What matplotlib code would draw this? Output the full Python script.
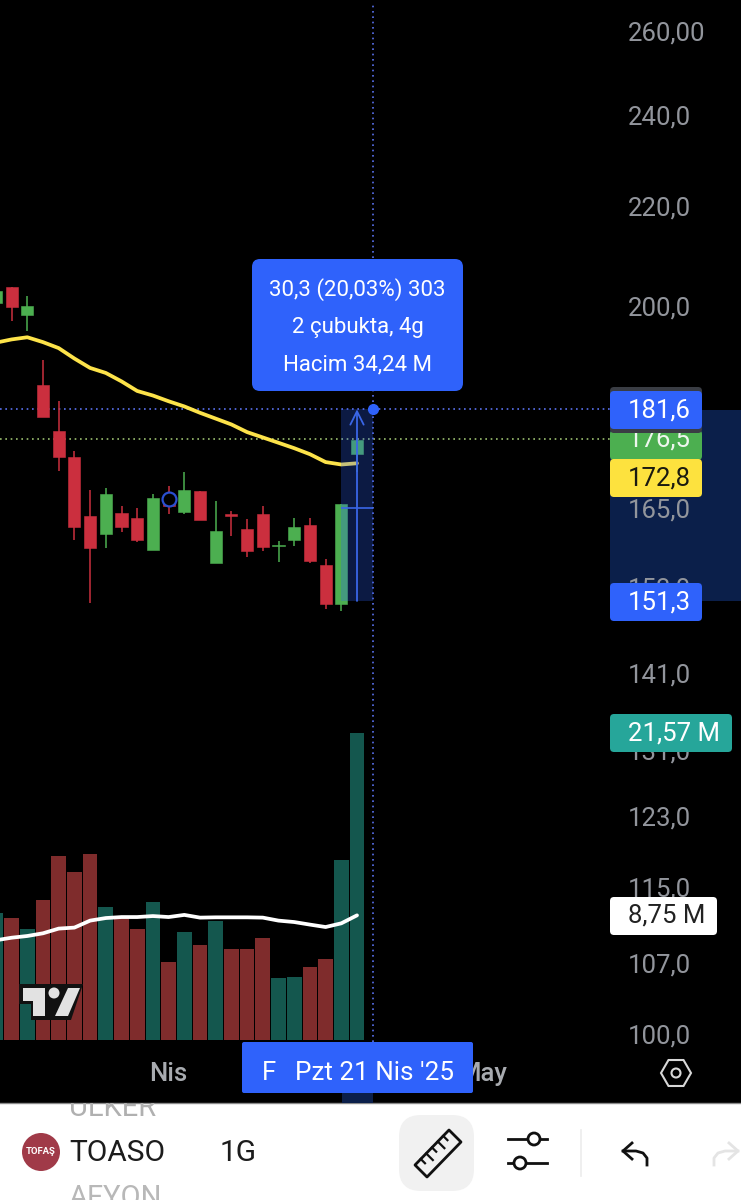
import numpy as np
import matplotlib
matplotlib.use('Agg')
import matplotlib.pyplot as plt
from matplotlib.patches import Rectangle, FancyBboxPatch, Circle, Polygon, RegularPolygon
from matplotlib.transforms import ScaledTranslation

plt.rcParams['font.family'] = ['Roboto', 'DejaVu Sans']

# daily bars, first one is cut by the left edge
bar_idx = list(range(-1, 23))
opens = [200.9, 204.1, 198.7, 185.8, 177.9, 173.6, 164.0, 161.3, 164.5, 163.7, 158.9, 166.8, 164.7, 168.0, 156.8, 164.3,
         162.1, 164.3, 159.4, 160.4, 162.7, 156.6, 150.9, 174.0]
closes = [203.2, 200.2, 200.3, 180.2, 173.5, 162.3, 159.1, 167.6, 162.4, 160.4, 166.9, 165.6, 168.1, 163.5, 161.7, 164.0,
          158.6, 159.3, 159.6, 162.3, 157.2, 150.9, 166.0, 176.3]
highs = [203.2, 204.1, 202.2, 190.3, 183.0, 174.5, 168.1, 168.5, 165.7, 165.3, 167.6, 168.8, 171.0, 168.0, 166.4, 164.8,
         163.6, 165.7, 160.2, 163.7, 163.7, 157.5, 166.0, 176.5]
lows = [200.9, 197.5, 195.6, 180.2, 171.3, 160.3, 151.0, 159.2, 161.6, 160.0, 158.9, 164.3, 164.4, 163.4, 156.8, 161.0,
        157.7, 158.6, 157.0, 159.5, 156.8, 150.1, 149.9, 171.1]
price_ma = [193.5, 194.1, 194.5, 193.6, 192.5, 190.6, 188.9, 188.0, 186.5, 184.8, 184.0, 183.0, 182.1, 181.0, 180.0, 179.0,
            177.7, 176.8, 175.9, 175.0, 174.0, 172.7, 172.3, 172.5]
volumes = [8.89, 8.54, 7.77, 9.85, 12.94, 11.82, 13.03, 9.31, 8.70, 7.79, 9.71, 5.48, 7.58, 6.67, 8.33, 6.36,
           6.36, 7.18, 4.33, 4.45, 5.10, 5.71, 12.64, 21.57]
vol_colors = ['g', 'r', 'g', 'r', 'r', 'r', 'r', 'g', 'r', 'r', 'g', 'r', 'g', 'r', 'g', 'r',
              'r', 'r', 'g', 'g', 'r', 'r', 'g', 'g']
vol_ma = [7.00, 7.18, 7.30, 7.49, 7.82, 7.89, 8.38, 8.56, 8.63, 8.63, 8.70, 8.63, 8.78, 8.59, 8.61, 8.61,
          8.61, 8.59, 8.38, 8.28, 8.10, 7.93, 8.19, 8.75]

price_ticks = [260, 240, 220, 200, 165, 153, 141, 131, 123, 115, 107, 100]
price_labels = ['260,00', '240,0', '220,0', '200,0', '165,0', '153,0', '141,0', '131,0', '123,0', '115,0', '107,0', '100,0']
date_ticks = [10, 30.0]
date_labels = ['Nis', 'May']

measure_top = 181.6
measure_bottom = 151.3
measure_mid = 165.3
last_close = 176.5
marker_idx = 10
marker_price = 166.8
cross_idx = 23

W, H = 741, 1200
BLUE = '#2f62fb'
RED = '#cb2f3e'
GREEN = '#4caf50'
AXIS_GREY = '#92959c'

fig = plt.figure(figsize=(W / 100, H / 100), dpi=100, facecolor='black')


def px_axes(left, top, right, bottom, z):
    a = fig.add_axes([left / W, 1 - bottom / H, (right - left) / W, (bottom - top) / H], zorder=z)
    a.patch.set_alpha(0)
    return a


# backdrop, the navy band behind the price scale
bg = px_axes(0, 0, W, H, 0)
bg.set_xlim(0, W)
bg.set_ylim(H, 0)
bg.axis('off')
bg.add_patch(Rectangle((610, 410), 131, 191, fc='#0b1f4a', ec='none'))

# price pane, sits 1.5 px lower than the volume pane
ax = px_axes(0, 1.5, 610, 1041.5, 2)
step = 15.7
ax.set_xlim(22 - 357 / step, 22 + 253 / step)
ax.set_yscale('log')
ax.set_ylim(99.45, 267.8)
for s in ax.spines.values():
    s.set_visible(False)

ax.axhline(measure_top, color='#5a72f0', lw=1.2, ls=(0, (1, 2.2)), zorder=1)
ax.axhline(last_close, color='#9cc070', lw=1.2, ls=(0, (1, 2.2)), zorder=1)
ax.vlines(cross_idx, 99.45, 275, color='#5a72f0', lw=1.2, ls=(0, (1, 2.2)), zorder=1)

for i, o, c, h, l in zip(bar_idx, opens, closes, highs, lows):
    col = GREEN if c >= o else RED
    ax.vlines(i, l, h, color=col, lw=1.1, zorder=2)
    ax.bar(i, abs(c - o), bottom=min(o, c), width=0.77, color=col, ec=col, lw=0.4, zorder=3)

ax.plot(bar_idx, price_ma, color='#fde34a', lw=2.7, zorder=4, solid_capstyle='round')
ax.plot(marker_idx, marker_price, 'o', ms=10, mfc='black', mec='#2a4fd0', mew=1.6, zorder=5)

ax.fill_between([21, cross_idx], measure_bottom, measure_top, color=BLUE, alpha=0.27, lw=0, zorder=6)
ax.hlines(measure_mid, 21, cross_idx, color='#3a66e8', lw=1.2, zorder=7)
ax.annotate('', xy=(22, measure_top), xytext=(22, measure_bottom), zorder=7,
            arrowprops=dict(arrowstyle='->', color='#3a66e8', lw=1.3, mutation_scale=24, shrinkA=0, shrinkB=0))
ax.plot(cross_idx, measure_top, 'o', ms=7, color=BLUE, zorder=8, clip_on=False)

ax.yaxis.tick_right()
ax.set_yticks(price_ticks)
ax.set_yticklabels(price_labels, fontsize=18.5, color=AXIS_GREY)
ax.minorticks_off()
ax.tick_params(axis='y', which='both', length=0, pad=13)
# keep the scale text where it was before the pane moved down
up = ScaledTranslation(0, 2.0 / 100, fig.dpi_scale_trans)
for lab in ax.get_yticklabels():
    lab.set_transform(lab.get_transform() + up)
ax.set_xticks(date_ticks)
ax.set_xticklabels(date_labels, fontsize=18.5, color='#a8abb0', fontweight='medium')
ax.tick_params(axis='x', length=0, pad=15)

# volume pane, own linear scale
vx = px_axes(0, 0, 610, 1040, 1)
vx.set_xlim(ax.get_xlim())
vx.set_ylim(0, 73.0)
vx.axis('off')
vx.bar(bar_idx, volumes, width=0.93, color=['#7f2c2c' if c == 'r' else '#14574e' for c in vol_colors], zorder=1)
vx.plot(bar_idx, vol_ma, color='white', lw=2.7, zorder=2, solid_capstyle='round')

# everything that sits on top of the chart
ui = px_axes(0, 0, W, H, 5)
ui.set_xlim(0, W)
ui.set_ylim(H, 0)
ui.axis('off')


def tag(x0, y0, x1, y1, col, r=4, z=3):
    ui.add_patch(FancyBboxPatch((x0 + r, y0 + r), x1 - x0 - 2 * r, y1 - y0 - 2 * r,
                                boxstyle='round,pad=%d,rounding_size=%d' % (r, r), fc=col, ec='none', zorder=z))


# measure box
tag(252, 259, 463, 391, BLUE, r=8)
for yy, s in zip([289.5, 327.5, 364.5], ['30,3 (20,03%) 303', '2 çubukta, 4g', 'Hacim 34,24 M']):
    ui.text(357.5, yy, s, color='white', fontsize=16, ha='center', va='center', zorder=4)

# scale tags
tag(610, 430, 702, 460, GREEN, z=3)
ui.text(628, 440, '176,5', color='#eef6ee', fontsize=18.5, va='center', zorder=3.1)
tag(610, 387, 702, 433, '#3a3d44', z=3.2)
tag(610, 391, 702, 429, BLUE, z=3.3)
ui.text(628, 410.5, '181,6', color='white', fontsize=18.5, va='center', zorder=3.4)
tag(610, 459, 702, 497, '#fde23e', z=3.5)
ui.text(628, 478.5, '172,8', color='#1a1a10', fontsize=18.5, va='center', zorder=3.6)
tag(610, 583, 702, 621, BLUE)
ui.text(628, 602.5, '151,3', color='white', fontsize=18.5, va='center', zorder=4)
tag(610, 714, 732, 752, '#26a69a')
ui.text(628, 733, '21,57 M', color='white', fontsize=18.5, va='center', zorder=4)
tag(610, 897, 717, 935, 'white')
ui.text(628, 916, '8,75 M', color='#222222', fontsize=18.5, va='center', zorder=4)

# tradingview logo
ui.add_patch(Polygon([(19, 984), (83, 984), (71, 1020), (31, 1020), (31, 1004), (19, 1004)], fc='#111111', ec='none', zorder=2))
ui.add_patch(Polygon([(23, 988), (45, 988), (45, 1016), (33, 1016), (33, 1001), (23, 1001)], fc='#e2e2e2', ec='none', zorder=2.1))
ui.add_patch(Circle((54, 993), 5.5, fc='#e2e2e2', ec='none', zorder=2.1))
ui.add_patch(Polygon([(68, 988), (80, 988), (68, 1016), (55, 1016)], fc='#e2e2e2', ec='none', zorder=2.1))

# date tag and hexagon
ui.add_patch(Rectangle((342, 1090), 31, 13, fc='#0b1f4a', ec='none', zorder=2))
tag(242, 1042, 473, 1093, BLUE, r=2)
ui.text(262, 1073, 'F', color='white', fontsize=18.5, va='center', zorder=4)
ui.text(295, 1073, "Pzt 21 Nis '25", color='white', fontsize=18.7, va='center', zorder=4)
ui.add_patch(RegularPolygon((676, 1073), 6, radius=15, orientation=np.pi / 6, fc='none', ec='#d8d8d8', lw=1.5))
ui.add_patch(Circle((676, 1073), 4.5, fc='none', ec='#d8d8d8', lw=1.5))

# white toolbar
ui.add_patch(Rectangle((0, 1103), W, 97, fc='white', ec='none', zorder=1))
ui.plot([0, W], [1103, 1103], color='#8a8a8a', lw=1, zorder=1.1)
clip = Rectangle((0, 1103), W, 97, transform=ui.transData)
t1 = ui.text(69, 1108, 'ÜLKER', color='#b0b0b0', fontsize=21, va='center', zorder=2, clip_on=True)
t1.set_clip_path(clip)
ui.text(69, 1198, 'AFYON', color='#b8b8b8', fontsize=21, va='center', zorder=2)
ui.add_patch(Circle((41, 1152), 19, fc='#a03a48', ec='none', zorder=2))
ui.text(41, 1152, 'TOFAŞ', color='white', fontsize=6.8, fontweight='bold', ha='center', va='center', zorder=3)
ui.text(69, 1153, 'TOASO', color='#1c1c1c', fontsize=21.5, va='center', zorder=2)
ui.text(220, 1153, '1G', color='#1c1c1c', fontsize=21.5, va='center', zorder=2)

ui.add_patch(FancyBboxPatch((415, 1131), 43, 44, boxstyle='round,pad=16,rounding_size=22', fc='#f1f1f1', ec='none', zorder=2))
ruler_a, ruler_b = np.array([415.0, 1165.0]), np.array([449.0, 1130.0])
normal = np.array([12.0, 12.0])
ui.add_patch(Polygon([ruler_a, ruler_b, ruler_b + normal, ruler_a + normal], fc='none', ec='#111111', lw=2, joinstyle='round', zorder=3))
for k, f in enumerate([0.17, 0.33, 0.5, 0.67, 0.83]):
    p = ruler_a + (ruler_b - ruler_a) * f
    q = p + normal * (0.55 if k % 2 else 0.35)
    ui.plot([p[0], q[0]], [p[1], q[1]], color='#111111', lw=1.6, zorder=3)

ui.plot([508, 528], [1139, 1139], color='#111111', lw=2, zorder=3)
ui.plot([540, 547], [1139, 1139], color='#111111', lw=2, zorder=3)
ui.add_patch(Circle((534, 1139), 6, fc='white', ec='#111111', lw=2, zorder=3))
ui.plot([508, 514], [1163, 1163], color='#111111', lw=2, zorder=3)
ui.plot([526, 547], [1163, 1163], color='#111111', lw=2, zorder=3)
ui.add_patch(Circle((520, 1163), 6, fc='white', ec='#111111', lw=2, zorder=3))
ui.plot([581, 581], [1130, 1176], color='#ececec', lw=1.2, zorder=2)

# undo / redo
ui.plot([632, 623, 632], [1143, 1151, 1159], color='#111111', lw=2, zorder=3)
ui.plot([623, 636, 643, 647, 647], [1151, 1151, 1153, 1158, 1165], color='#111111', lw=2, zorder=3)
ui.plot([729, 738, 729], [1143, 1151, 1159], color='#e4e4e4', lw=2, zorder=3)
ui.plot([738, 725, 718, 714, 714], [1151, 1151, 1153, 1158, 1165], color='#e4e4e4', lw=2, zorder=3)

fig.savefig('out.png', dpi=100, facecolor='black')
